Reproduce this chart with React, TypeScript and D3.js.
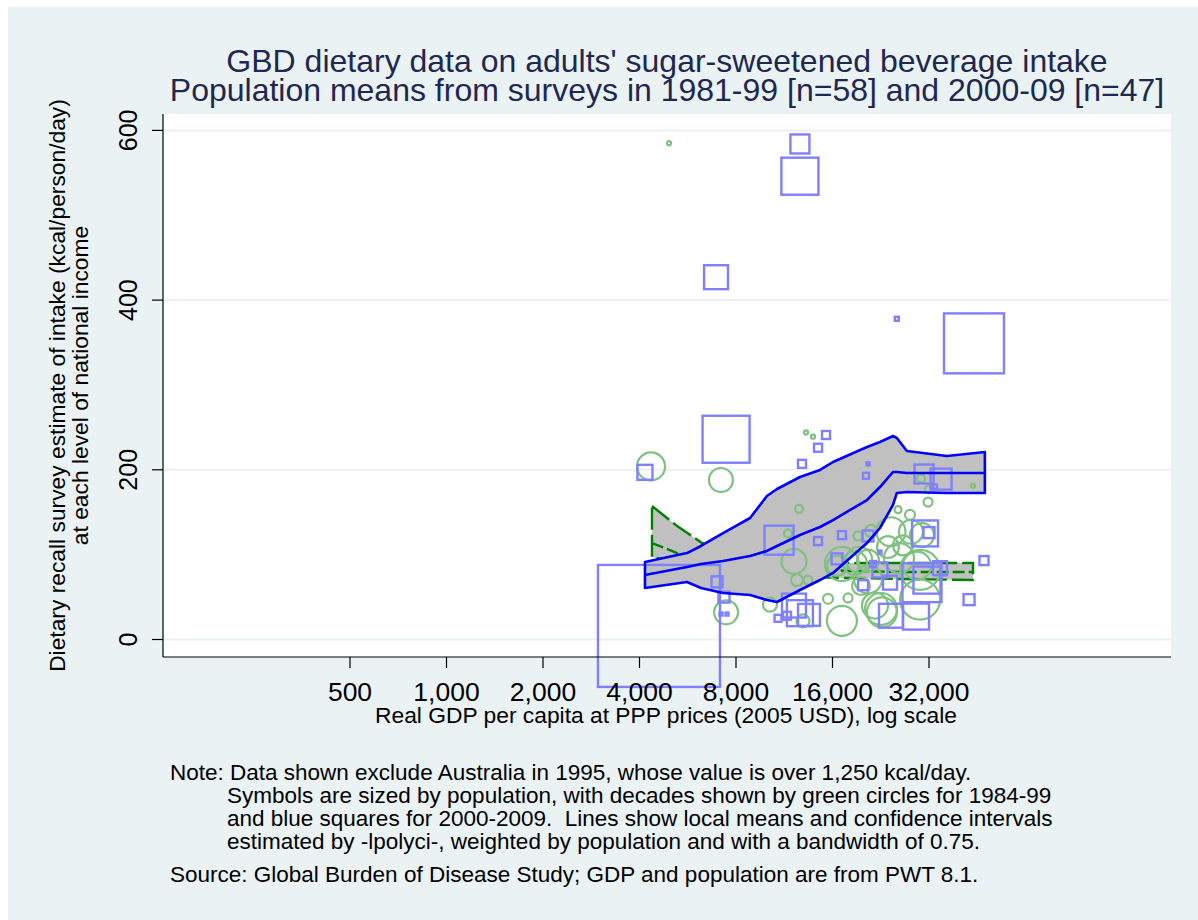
import React from 'react';
import * as d3 from 'd3';

// Axis ticks
const xTicks = [500, 1000, 2000, 4000, 8000, 16000, 32000];
const yTicks = [0, 200, 400, 600];

// 2000-09 survey means (blue squares): GDP per capita, kcal/day, population (millions)
const sqGdp = [12660, 12660, 6930, 25400, 44200, 7450, 4160, 4600, 10900, 6980, 7340, 7180, 7500, 12850, 14420, 15270, 20650, 20350, 30880, 34900, 33400, 14420, 17120, 20650, 31100, 32000, 16530, 21400, 19920, 22500, 24190, 30420, 31540, 34630, 47500, 42660, 24350, 29150, 12130, 12660, 13510, 10820, 11540, 22500];
const sqKcal = [584, 546, 427, 378, 349, 236, 197, 16, 117, 68, 50, 30, 30, 207, 226, 241, 207, 193, 195, 189, 180, 116, 123, 122, 125, 126, 95, 89, 64, 82, 67, 67, 70, 84, 93, 47, 28, 27, 40, 31, 29, 25, 28, 103];
const sqPop = [31.5, 120, 50, 1.4, 314, 193, 19.7, 1300, 73.5, 10.6, 10.6, 0.8, 0.8, 5.6, 5.6, 5.6, 0.8, 3.1, 31.5, 38.5, 1.4, 5.6, 5.6, 10.6, 59, 10.6, 10.6, 3.1, 8.7, 19.7, 17.1, 133, 64, 17.1, 7.1, 10.6, 50, 59, 50, 59, 42, 4.3, 5.6, 0.8];

// 1981-99 survey means (green circles)
const ciGdp = [4945, 4345, 7180, 12580, 11620, 12130, 12400, 13420, 10210, 7450, 13230, 13910, 15490, 17890, 17120, 19210, 17120, 18800, 43900, 30210, 32000, 31780, 25620, 27920, 24350, 21100, 28110, 19370, 16530, 23830, 30000, 21710, 22830, 20650, 19630, 26550, 30420, 20650, 25800, 29360, 22670, 30000, 12940];
const ciKcal = [585, 204, 188, 154, 125, 92, 70, 70, 41, 32, 244, 239, 48, 49, 22, 122, 89, 90, 181, 190, 177, 162, 153, 147, 127, 128, 127, 94, 87, 109, 82, 40, 32, 71, 63, 111, 123, 93, 96, 87, 36, 47, 22];
const ciPop = [1.4, 68.5, 50, 5.6, 5.6, 54.6, 12.6, 7.1, 17.1, 50, 1.4, 1.4, 8.7, 7.1, 78.6, 7.1, 101, 50, 1.4, 5.6, 5.6, 7.1, 4.3, 8.7, 73.5, 12.6, 50, 59, 35, 42, 140, 59, 78.6, 68.5, 28, 35, 50, 42, 78.6, 68.5, 89, 140, 14.9];

// Local polynomial fit with 95% CI, 2000-09
const fitBGdp = [4160, 5625, 6220, 7290, 8850, 9990, 10740, 12670, 14630, 16060, 20500, 22500, 24700, 25400, 27300, 36400, 47800];
const fitBLo = [60.7, 67.8, 60.7, 54.8, 52.4, 46.5, 44.2, 58.3, 70.1, 78.4, 113.7, 131.4, 158.5, 172.7, 173.8, 172.7, 172.7];
const fitBMean = [76.0, 85.4, 89.0, 92.5, 98.4, 104.4, 110.2, 123.2, 132.6, 140.8, 164.4, 179.7, 197.4, 197.4, 196.2, 196.2, 196.2];
const fitBHi = [91.3, 101.9, 110.2, 125.5, 143.2, 169.1, 177.4, 191.5, 199.8, 209.2, 226.9, 232.8, 239.8, 237.5, 222.2, 216.3, 221.0];

// Local polynomial fit with 95% CI, 1981-99
const fitGGdp = [4375, 5240, 6270, 8850, 12670, 18140, 25990, 43900];
const fitGLo = [97.2, 91.3, 83.1, 77.2, 73.7, 72.5, 71.3, 70.1];
const fitGMean = [113.7, 101.9, 93.7, 87.8, 84.3, 80.7, 79.6, 79.6];
const fitGHi = [157.3, 133.8, 113.7, 101.9, 96.1, 90.2, 90.2, 90.2];

const noteLines = [
  'Symbols are sized by population, with decades shown by green circles for 1984-99',
  'and blue squares for 2000-2009.  Lines show local means and confidence intervals',
  'estimated by -lpolyci-, weighted by population and with a bandwidth of 0.75.',
];

const FONT = '"Liberation Sans", Arial, Helvetica, sans-serif';
const BG = '#eaf2f3';
const SQ = '#8080ff';
const CI = '#80c080';
const BAND = '#c0c0c0';

export default function App() {
  const W = 1198;
  const H = 920;
  const plot = { left: 163, right: 1171, top: 114, bottom: 657 };

  const x = d3.scaleLog().domain([500, 32000]).range([350, 929]);
  const y = d3.scaleLinear().domain([0, 600]).range([639.5, 130.4]);
  const size = d3.scaleSqrt().domain([0, 1300]).range([0, 122]);
  const fmt = d3.format(',');

  const bandPath = (g: number[], lo: number[], hi: number[]) => {
    const top = g.map((v, i) => [x(v), y(hi[i])] as [number, number]);
    const bot = g.map((v, i) => [x(v), y(lo[i])] as [number, number]).reverse();
    return d3.line()([...top, ...bot]) + 'Z';
  };
  const linePath = (g: number[], v: number[]) =>
    d3.line()(g.map((gv, i) => [x(gv), y(v[i])] as [number, number])) || '';

  return (
    <svg
      width={W}
      height={H}
      style={{ position: 'absolute', left: 0, top: 0, fontFamily: FONT }}
    >
      <rect x={0} y={0} width={W} height={H} fill="#ffffff" />
      <rect x={8} y={7} width={W - 8} height={H - 7} fill={BG} />
      <rect
        x={plot.left}
        y={plot.top}
        width={plot.right - plot.left}
        height={plot.bottom - plot.top}
        fill="#ffffff"
      />

      {/* horizontal grid */}
      {yTicks.map((t) => (
        <line
          key={'g' + t}
          x1={plot.left}
          x2={plot.right}
          y1={y(t)}
          y2={y(t)}
          stroke={BG}
          strokeWidth={2}
        />
      ))}

      {/* 1981-99 band with its dashed lines */}
      <path d={bandPath(fitGGdp, fitGLo, fitGHi)} fill={BAND} stroke="none" />
      <path
        d={bandPath(fitGGdp, fitGLo, fitGHi)}
        fill="none"
        stroke="#008000"
        strokeWidth={2.4}
        strokeDasharray="22 5"
      />
      <path
        d={linePath(fitGGdp, fitGMean)}
        fill="none"
        stroke="#008000"
        strokeWidth={2.4}
        strokeDasharray="12 4"
      />

      {/* 2000-09 band */}
      <path d={bandPath(fitBGdp, fitBLo, fitBHi)} fill={BAND} stroke="none" />

      {/* survey means */}
      {ciGdp.map((g, i) => (
        <circle
          key={'c' + i}
          cx={x(g)}
          cy={y(ciKcal[i])}
          r={size(ciPop[i]) / 2}
          fill="none"
          stroke={CI}
          strokeWidth={2.2}
        />
      ))}
      {sqGdp.map((g, i) => {
        const s = size(sqPop[i]);
        return (
          <rect
            key={'s' + i}
            x={x(g) - s / 2}
            y={y(sqKcal[i]) - s / 2}
            width={s}
            height={s}
            fill="none"
            stroke={SQ}
            strokeWidth={2.4}
          />
        );
      })}

      {/* 2000-09 fitted lines */}
      <path d={bandPath(fitBGdp, fitBLo, fitBHi)} fill="none" stroke="#0000ff" strokeWidth={2.6} strokeLinejoin="round" />
      <path d={linePath(fitBGdp, fitBMean)} fill="none" stroke="#0000ff" strokeWidth={2.6} strokeLinejoin="round" />

      {/* y axis */}
      <line x1={plot.left} x2={plot.left} y1={plot.top} y2={plot.bottom} stroke="#000" strokeWidth={1.2} />
      {yTicks.map((t) => (
        <g key={'yt' + t}>
          <line x1={152} x2={plot.left} y1={y(t)} y2={y(t)} stroke="#000" strokeWidth={1.2} />
          <text
            transform={`translate(137,${y(t)}) rotate(-90)`}
            textAnchor="middle"
            fontSize={25}
            fill="#000"
          >
            {fmt(t)}
          </text>
        </g>
      ))}
      <text transform="translate(65,385.5) rotate(-90)" textAnchor="middle" fontSize={22.8} fill="#000">
        Dietary recall survey estimate of intake (kcal/person/day)
      </text>
      <text transform="translate(88,385.5) rotate(-90)" textAnchor="middle" fontSize={22.8} fill="#000">
        at each level of national income
      </text>

      {/* x axis */}
      <line x1={plot.left} x2={plot.right} y1={plot.bottom} y2={plot.bottom} stroke="#000" strokeWidth={1.2} />
      {xTicks.map((t) => (
        <g key={'xt' + t}>
          <line x1={x(t)} x2={x(t)} y1={plot.bottom} y2={668} stroke="#000" strokeWidth={1.2} />
          <text x={x(t)} y={701} textAnchor="middle" fontSize={26.5} fill="#000">
            {fmt(t)}
          </text>
        </g>
      ))}
      <text x={666} y={723} textAnchor="middle" fontSize={22.8} fill="#000">
        Real GDP per capita at PPP prices (2005 USD), log scale
      </text>

      {/* titles */}
      <text x={667} y={72} textAnchor="middle" fontSize={32} fill="#1e2850">
        GBD dietary data on adults' sugar-sweetened beverage intake
      </text>
      <text x={667} y={101} textAnchor="middle" fontSize={32} fill="#1e2850">
        Population means from surveys in 1981-99 [n=58] and 2000-09 [n=47]
      </text>

      {/* notes */}
      <text x={170} y={780} fontSize={22.5} fill="#000">
        Note: Data shown exclude Australia in 1995, whose value is over 1,250 kcal/day.
      </text>
      {noteLines.map((l, i) => (
        <text key={'n' + i} x={227} y={803 + i * 23} fontSize={22.5} fill="#000" style={{ whiteSpace: 'pre' }}>
          {l}
        </text>
      ))}
      <text x={170} y={882} fontSize={22.5} fill="#000">
        Source: Global Burden of Disease Study; GDP and population are from PWT 8.1.
      </text>
    </svg>
  );
}
